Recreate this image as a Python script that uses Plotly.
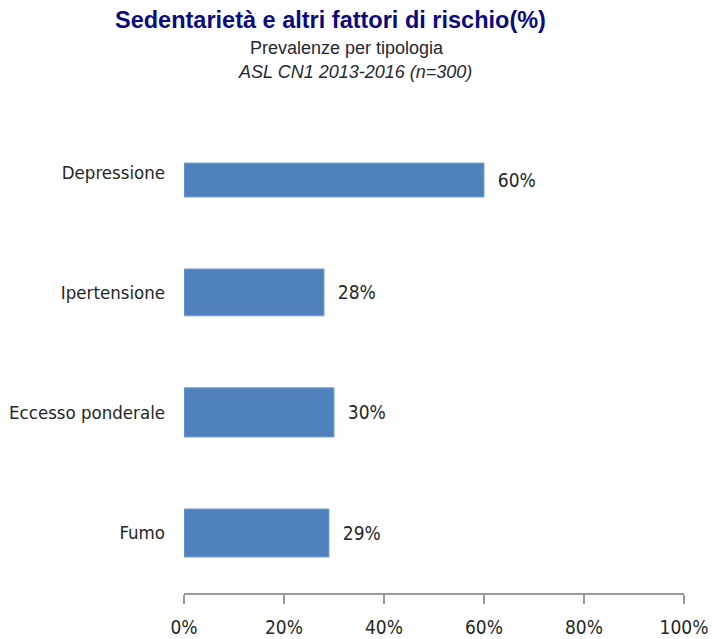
import plotly.graph_objects as go

# Data
categories = ["Fumo", "Eccesso ponderale", "Ipertensione", "Depressione"]
values = [29, 30, 28, 60]
tick_values = [0, 20, 40, 60, 80, 100]
tick_labels = ["0%", "20%", "40%", "60%", "80%", "100%"]

title_main = "Sedentarietà e altri fattori di rischio(%)"
title_sub = "Prevalenze per tipologia"
title_sub2 = "ASL CN1 2013-2016 (n=300)"

LABEL_FONT = "Liberation Sans Narrow, DejaVu Sans Condensed, Arial Narrow, sans-serif"
TXT = "#262626"

bar_text = ["\u00a0\u00a0" + str(v) + "%" for v in values]

fig = go.Figure()
fig.add_trace(go.Bar(
    y=categories,
    x=values,
    orientation="h",
    marker=dict(color="#4F81BD", line=dict(color="#7AA0D4", width=1)),
    width=[0.4, 0.41, 0.39, 0.283],
    offset=[-0.2, -0.2, -0.19, -0.2],
    text=bar_text,
    textposition="outside",
    textfont=dict(family=LABEL_FONT, size=19, color=TXT),
    cliponaxis=False,
    hoverinfo="skip",
))

fig.update_layout(
    width=721, height=639,
    margin=dict(l=184, r=37, t=113, b=46),
    paper_bgcolor="white",
    plot_bgcolor="white",
    showlegend=False,
    xaxis=dict(
        range=[0, 100],
        tickvals=tick_values,
        ticktext=tick_labels,
        showgrid=False,
        zeroline=False,
        showline=True,
        linecolor="#9a9a9a",
        linewidth=1.5,
        ticks="outside",
        ticklen=9,
        tickcolor="#9a9a9a",
        tickwidth=1.5,
        ticklabelstandoff=7,
        tickfont=dict(family=LABEL_FONT, size=19, color=TXT),
        automargin=False,
        fixedrange=True,
    ),
    yaxis=dict(
        type="category",
        categoryorder="array",
        categoryarray=categories,
        range=[-0.5, 3.5],
        showgrid=False,
        zeroline=False,
        showline=False,
        ticks="",
        ticklabelstandoff=18,
        tickfont=dict(family=LABEL_FONT, size=18.5, color=TXT),
        automargin=False,
        fixedrange=True,
    ),
    annotations=[
        dict(text="<b>" + title_main + "</b>", xref="paper", yref="paper",
             x=0.292, y=1.194, xanchor="center", yanchor="middle", showarrow=False,
             font=dict(family="Liberation Sans, Arial, sans-serif", size=23.5, color="#0A0A80")),
        dict(text=title_sub, xref="paper", yref="paper",
             x=0.326, y=1.135, xanchor="center", yanchor="middle", showarrow=False,
             font=dict(family="Liberation Sans, Arial, sans-serif", size=18, color="#1F2933")),
        dict(text="<i>" + title_sub2 + "</i>", xref="paper", yref="paper",
             x=0.342, y=1.085, xanchor="center", yanchor="middle", showarrow=False,
             font=dict(family="Liberation Sans, Arial, sans-serif", size=18, color="#1F2933")),
    ],
)

fig.write_html("out.html")
